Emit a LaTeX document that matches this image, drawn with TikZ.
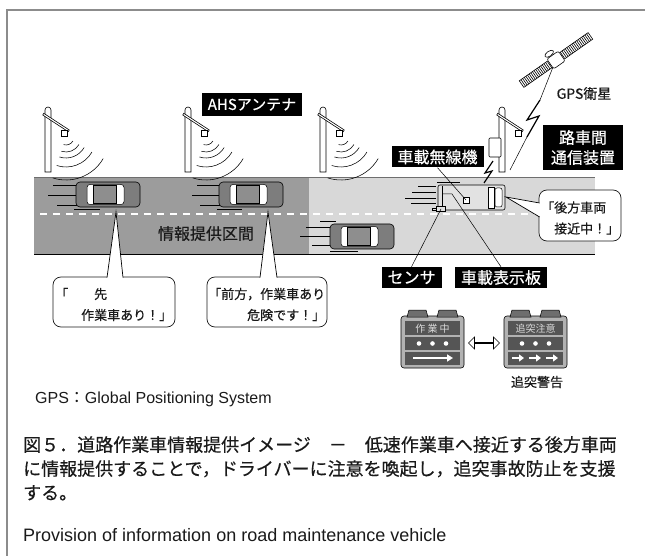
\documentclass[tikz,border=0pt]{standalone}
\usepackage{fontspec}
\setmainfont{Liberation Sans}
\newfontfamily\jp{Noto Sans CJK JP}
\newfontfamily\jpb{Noto Sans CJK JP}[FakeBold=0.5]
\usetikzlibrary{arrows.meta,shapes.arrows,calc}
\definecolor{framegray}{HTML}{8C8C8C}
\definecolor{roaddark}{HTML}{9C9C9C}
\definecolor{roadlight}{HTML}{D8D8D8}
\definecolor{roadedge}{HTML}{6E6E6E}
\definecolor{bodygray}{HTML}{7D7D7D}
\definecolor{roofgray}{HTML}{8E8E8E}
\definecolor{vangray}{HTML}{E2E2E2}
\definecolor{boardgray}{HTML}{B2B2B2}
\definecolor{lampgray}{HTML}{6E6E6E}
\definecolor{panelgray}{HTML}{555555}
\definecolor{ink}{HTML}{1A1A1A}
\tikzset{
  tag/.style={fill=black, text=white, font=\jpb\fontsize{16}{20}\selectfont,
    inner xsep=6pt, inner ysep=0pt, minimum height=21pt, align=center},
  bubble/.style={draw=ink, fill=white, line width=0.7pt, rounded corners=8pt},
  say/.style={font=\jpb\fontsize{13}{21}\selectfont, text=ink, anchor=west, inner sep=0pt, align=left},
  lbl/.style={font=\jpb\fontsize{16}{20}\selectfont, text=ink, inner sep=0pt},
  speed/.style={draw=black, line width=0.6pt},
  wave/.style={draw=black, line width=0.55pt},
  lead/.style={draw=black, line width=0.5pt},
  bolt/.style={draw=black, line width=1.2pt, line join=miter},
  swap/.style={double arrow, draw=black, fill=white, line width=0.6pt, inner sep=0pt,
    minimum height=31pt, minimum width=12pt, double arrow head extend=3.5pt},
  sedan/.pic={
    \filldraw[fill=bodygray, draw=black, line width=0.6pt, rounded corners=4pt]
      (-32,-12.5) rectangle (32,12.5);
    \filldraw[fill=white, draw=black, line width=0.5pt, rounded corners=3pt]
      (-21,-10) rectangle (16,10);
    \filldraw[fill=roofgray, draw=black, line width=0.5pt] (-15,-9) rectangle (8,9);
  },
  van/.pic={
    \filldraw[fill=vangray, draw=black, line width=0.6pt, rounded corners=2pt]
      (0,0) rectangle (67,25);
    \draw[line width=0.5pt] (4,1) -- (4,24);
    \filldraw[fill=white, draw=black, line width=0.5pt] (50,2) rectangle (56,23);
    \filldraw[fill=white, draw=black, line width=0.5pt, rounded corners=2pt] (57,3) rectangle (64,22);
    \filldraw[fill=white, draw=black, line width=0.5pt] (25,12) rectangle (31,18);
  },
  pole/.pic={
    \filldraw[fill=white, draw=black, line width=0.6pt]
      (-3,0) -- (-3,-62) arc[start angle=180, end angle=360, radius=3] -- (3,0) -- cycle;
    \draw[line width=2.6pt] (-5,-58) -- (21,-41);
    \draw[white, line width=1.1pt] (-4.4,-57.6) -- (20.4,-41.4);
    \filldraw[fill=white, draw=black, line width=0.6pt] (13,-42) rectangle (19,-36);
  },
  pics/board/.style={code={
    \filldraw[fill=boardgray, draw=black, line width=0.6pt, rounded corners=3pt]
      (0,7) rectangle (63,59);
    \filldraw[fill=lampgray, draw=black, line width=0.5pt] (6,8) -- (8,1) -- (25,1) -- (27,8) -- cycle;
    \filldraw[fill=lampgray, draw=black, line width=0.5pt] (36,8) -- (38,1) -- (55,1) -- (57,8) -- cycle;
    \fill[panelgray] (4,12) rectangle (59,56);
    \draw[boardgray, line width=1.4pt] (4,27) -- (59,27) (4,42) -- (59,42);
    \node[font=\jp\fontsize{10}{12}\selectfont, text=white!85!black] at (31.5,19.5) {#1};
    \foreach \dx in {18,31.5,45} \fill[white] (\dx,34.5) circle (2.3);
    \coordinate (-e) at (63,34);
    \coordinate (-w) at (0,34);
  }},
}

\begin{document}
\begin{tikzpicture}[x=1pt, y=-1pt]

  \useasboundingbox (0,0) rectangle (645,556);
  \draw[framegray, line width=1.5pt] (7,556) -- (7,10) -- (645,10);

  \fill[roaddark] (34,177) rectangle (309,254);
  \fill[roadlight] (309,177) rectangle (595,254);
  \draw[roadedge, line width=0.8pt] (34,177) -- (595,177);
  \draw[black, line width=0.8pt] (34,254) -- (595,254);
  \draw[white, line width=2.5pt, dash pattern=on 7pt off 6pt] (40,214) -- (595,214);

  \foreach \px in {48,188,323,502}
    \pic at (\px,172) {pole};
  \foreach \wx in {66,206,341}
    \foreach \r in {8,15,21,30,43}
      \draw[wave] (\wx,137) ++(30:\r) arc[start angle=30, end angle=108, radius=\r];

  \filldraw[fill=white, draw=black, line width=0.6pt, rounded corners=1pt] (489,138) rectangle (501,157);

  \begin{scope}[shift={(556,60)}, rotate=35]
    \filldraw[fill=white, draw=black, line width=0.6pt] (-42,-4) rectangle (-8,4);
    \filldraw[fill=white, draw=black, line width=0.6pt] (8,-4) rectangle (42,4);
    \foreach \h in {-40,-38,...,-10} \draw[line width=0.6pt] (\h,-4) -- (\h,4);
    \foreach \h in {10,12,...,40} \draw[line width=0.6pt] (\h,-4) -- (\h,4);
    \filldraw[fill=white, draw=black, line width=0.6pt, rounded corners=2pt] (-7,-6) rectangle (7,6);
    \filldraw[fill=white, draw=black, line width=0.6pt] (-2,-9) ellipse (5 and 2.5);
  \end{scope}
  \draw[lead] (553,67) -- (540,100);
  \draw[bolt] (540,100) -- (527,120) -- (539,116) -- (527,137);
  \draw[lead] (527,137) -- (510,170);
  \draw[bolt] (493,161) -- (485,173) -- (492,171) -- (484,183);

  \foreach \ya/\xa/\xb in {185/53/77, 195/48/77, 205/57/77, 209/74/100,
      185/197/220, 195/192/220, 205/200/220, 209/217/242,
      221/320/336, 227/306/332, 236/300/332, 245/312/332, 251/330/358,
      182/437/460, 186/418/436, 192/412/436, 198/405/436, 203/411/436}
    \draw[speed] (\xa,\ya) -- (\xb,\ya);

  \pic at (108,194.5) {sedan};
  \pic at (251,194.5) {sedan};
  \pic at (362,236.5) {sedan};
  \pic at (438,185) {van};
  \filldraw[fill=vangray, draw=black, line width=0.5pt] (432,208) rectangle (436,210.5);
  \filldraw[fill=vangray, draw=black, line width=0.5pt] (436,206.5) rectangle (445,211.5);

  \coordinate (radio) at (466,200);
  \coordinate (sensor) at (441,209);
  \coordinate (display) at (452,194);

  \node[tag, minimum height=23pt, font=\jpb\fontsize{15}{18}\selectfont] (ahs) at (252,104.5) {AHSアンテナ};
  \node[tag] (radiotag) at (437.5,157) {車載無線機};
  \node[tag, minimum width=80pt, minimum height=45pt] (rsu) at (583,147.5) {路車間\\通信装置};
  \node[tag] (sensortag) at (411.5,277.5) {センサ};
  \node[tag] (disptag) at (501,277.5) {車載表示板};
  \draw[lead] (radiotag.south) -- (radio);
  \draw[lead] (sensortag.north) -- (sensor);
  \draw[lead] (disptag.north) -- (display) -- ++(-10,0);

  \node[lbl] (zone) at (206,233.5) {情報提供区間};
  \node[lbl, font=\jpb\fontsize{14}{17}\selectfont] (sat) at (584,93.5) {GPS衛星};

  \draw[bubble] (53,277) rectangle (175,327);
  \filldraw[fill=white, draw=none] (107,278) -- (116,212) -- (123,278) -- cycle;
  \draw[lead, line width=0.7pt] (107,277.6) -- (116,212) -- (123,277.6);
  \node[say] (say1) at (55,304.5) {「　　先\\　　作業車あり！」};

  \draw[bubble] (207,277) rectangle (327,327);
  \filldraw[fill=white, draw=none] (260,278) -- (268,212) -- (277,278) -- cycle;
  \draw[lead, line width=0.7pt] (260,277.6) -- (268,212) -- (277,277.6);
  \node[say] (say2) at (208,304.5) {「前方，作業車あり\\　　　危険です！」};

  \draw[bubble] (539,190) rectangle (621,241);
  \filldraw[fill=white, draw=none] (540,203) -- (506,197) -- (540,217) -- cycle;
  \draw[lead, line width=0.7pt] (539.6,203) -- (506,197) -- (539.6,217);
  \node[say] (say3) at (541,218) {「後方車両\\　接近中！」};

  \pic (bd1) at (401,309) {board=作 業 中};
  \pic (bd2) at (504,309) {board=追突注意};
  \draw[white, line width=2pt, -{Triangle[length=6pt, width=7pt]}] (413,358) -- (453,358);
  \foreach \ax in {512,529,546}
    \draw[white, line width=2.2pt, -{Triangle[length=5pt, width=7pt]}] (\ax,358) -- ++(12,0);
  \node[swap] (swap) at ($(bd1-e)!0.5!(bd2-w)$) {};
  \node[lbl, font=\jpb\fontsize{13}{16}\selectfont] (warn) at (537,382) {追突警告};

  \node[anchor=base west, inner sep=0pt, text=ink, font=\fontsize{16}{19}\selectfont] (gps) at (35,403)
    {GPS{\jp：}Global Positioning System};
  \node[anchor=north west, inner sep=0pt, text=ink, align=left, font=\jpb\fontsize{18}{24}\selectfont] (cap) at (23,436)
    {図５．道路作業車情報提供イメージ　－　低速作業車へ接近する後方車両\\
     に情報提供することで，ドライバーに注意を喚起し，追突事故防止を支援\\
     する。};
  \node[anchor=base west, inner sep=0pt, text=ink, font=\fontsize{18}{22}\selectfont] (eng) at (23,541)
    {Provision of information on road maintenance vehicle};

\end{tikzpicture}
\end{document}
